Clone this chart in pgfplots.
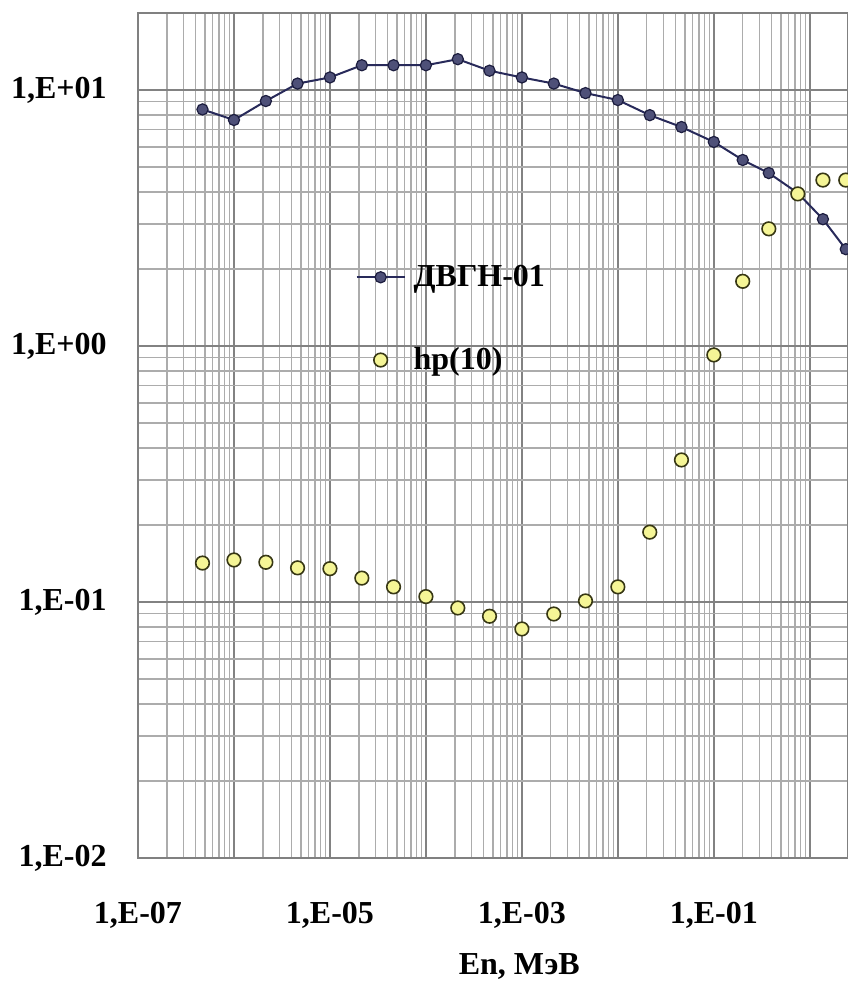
\documentclass[border=0pt]{standalone}
\usepackage{fontspec}
\setmainfont{Liberation Serif}
\usepackage{pgfplots}
\pgfplotsset{compat=1.18}
\definecolor{gridc}{RGB}{172,172,172}
\definecolor{majgrid}{RGB}{130,130,130}
\definecolor{dvgn}{RGB}{78,80,120}
\definecolor{dvgnline}{RGB}{40,42,90}
\definecolor{hpfill}{RGB}{245,245,150}
\definecolor{hpdraw}{RGB}{55,55,20}
\begin{document}
\begin{tikzpicture}
\begin{axis}[
  scale only axis, width=355pt, height=422.5pt,
  xmode=log, ymode=log,
  xmin=1e-7, xmax=2.5, ymin=0.01, ymax=20,
  xtick={1e-7,1e-6,1e-5,1e-4,1e-3,1e-2,1e-1,1},
  xticklabels={{1,E-07},{},{1,E-05},{},{1,E-03},{},{1,E-01},{}},
  ytick={0.01,0.1,1,10},
  yticklabels={{1,E-02},{1,E-01},{1,E+00},{1,E+01}},
  grid=both,
  major grid style={majgrid, line width=0.8pt},
  minor grid style={gridc, line width=0.7pt},
  axis line style={gray, line width=0.7pt},
  major tick length=0pt, minor tick length=0pt,
  tick label style={font=\bfseries\fontsize{16}{19}\selectfont},
  yticklabel style={anchor=east, inner sep=0pt, xshift=-15.5pt},
  xticklabel style={anchor=north, inner sep=0pt, yshift=-22pt},
  xlabel={En, МэВ},
  x label style={at={(axis description cs:0.537,0)}, anchor=north, inner sep=0pt, yshift=-47.5pt, font=\bfseries\fontsize{16}{19}\selectfont},
  legend cell align=left,
  legend style={draw=none, fill=none, at={(axis description cs:0.306,0.638)}, anchor=west, row sep=25pt, inner sep=0pt, font=\bfseries\fontsize{16}{19}\selectfont, nodes={inner xsep=4pt}},
  legend image code/.code={\draw[mark repeat=2,mark phase=2,#1] plot coordinates {(0pt,0pt) (12pt,0pt) (24pt,0pt)};},
]
\addplot[color=dvgnline, line width=1pt, mark=*, mark size=2.8pt,
  mark options={fill=dvgn, draw=dvgnline!70!black, line width=0.6pt}] coordinates {
(4.7e-7,8.4) (1e-6,7.64) (2.15e-6,9.06) (4.6e-6,10.6) (1e-5,11.2)
(2.15e-5,12.5) (4.6e-5,12.5) (1e-4,12.5) (2.15e-4,13.2) (4.6e-4,11.9)
(1e-3,11.2) (2.15e-3,10.6) (4.6e-3,9.73) (1e-2,9.14) (2.15e-2,7.98)
(4.6e-2,7.17) (1e-1,6.27) (0.2,5.33) (0.374,4.74) (0.75,3.96)
(1.37,3.13) (2.37,2.39)
};
\addlegendentry{ДВГН-01}
\addplot[only marks, mark=*, mark size=3.4pt,
  mark options={fill=hpfill, draw=hpdraw, line width=0.8pt}] coordinates {
(4.7e-7,0.142) (1e-6,0.146) (2.15e-6,0.143) (4.6e-6,0.136) (1e-5,0.135)
(2.15e-5,0.124) (4.6e-5,0.1146) (1e-4,0.105) (2.15e-4,0.0948) (4.6e-4,0.088)
(1e-3,0.0785) (2.15e-3,0.0898) (4.6e-3,0.101) (1e-2,0.1146) (2.15e-2,0.1875)
(4.6e-2,0.359) (1e-1,0.923) (0.2,1.79) (0.374,2.87) (0.75,3.93)
(1.37,4.45) (2.37,4.45)
};
\addlegendentry{hp(10)}
\end{axis}
\pgfresetboundingbox
\path ([xshift=-69pt,yshift=6.5pt]current axis.north west) rectangle ([yshift=-68pt]current axis.south east);
\end{tikzpicture}
\end{document}
